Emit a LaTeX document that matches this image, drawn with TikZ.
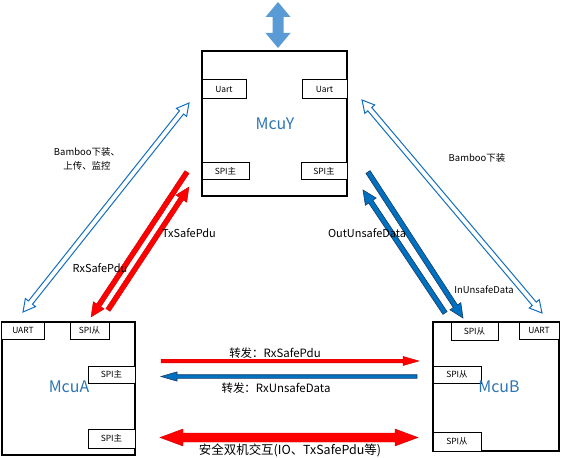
\documentclass[tikz,border=0pt]{standalone}
\usepackage{fontspec}
\setmainfont{Noto Sans CJK SC}
\usetikzlibrary{calc}
\definecolor{mcublue}{RGB}{46,117,182}
\definecolor{lightblue}{RGB}{91,155,213}
\definecolor{hollowblue}{RGB}{20,110,190}
\definecolor{solidblue}{RGB}{0,112,192}
\definecolor{darkblue}{RGB}{25,60,100}
\definecolor{pured}{RGB}{255,0,0}
\newcommand\fs[1]{\fontsize{#1}{#1}\selectfont}
% single block arrow: style, from, to, half shaft, half head, head length
\newcommand\blockarr[6]{%
  \path ($(#3)!#6!(#2)$) coordinate (tH);
  \draw[#1] ($(#2)!#4!90:(#3)$) -- ($(tH)!#4!-90:(#2)$) -- ($(tH)!#5!-90:(#2)$) -- (#3)
    -- ($(tH)!#5!90:(#2)$) -- ($(tH)!#4!90:(#2)$) -- ($(#2)!#4!-90:(#3)$) -- cycle;}
\newcommand\dblarr[6]{%
  \path ($(#3)!#6!(#2)$) coordinate (tH) ($(#2)!#6!(#3)$) coordinate (tG);
  \draw[#1] (#2) -- ($(tG)!#5!90:(#3)$) -- ($(tG)!#4!90:(#3)$) -- ($(tH)!#4!-90:(#2)$)
    -- ($(tH)!#5!-90:(#2)$) -- (#3) -- ($(tH)!#5!90:(#2)$) -- ($(tH)!#4!90:(#2)$)
    -- ($(tG)!#4!-90:(#3)$) -- ($(tG)!#5!-90:(#3)$) -- cycle;}
\tikzset{
  mcubox/.style={draw=black, line width=2.4bp, fill=white, inner sep=0pt},
  port/.style={draw=black, line width=1bp, fill=white, inner sep=0pt, font=\fs{8.5}},
  mcuname/.style={text=mcublue, font=\fs{16}, inner sep=0pt},
  lbl/.style={inner sep=0pt, font=\fs{11}, text=black},
  hollow/.style={draw=hollowblue, line width=1bp, fill=white, line join=miter},
  redfill/.style={fill=pured, draw=pured!80!black, line width=0.4bp},
  bluefill/.style={fill=solidblue, draw=darkblue, line width=0.6bp},
  topfill/.style={fill=lightblue, draw=none},
}
\begin{document}
\begin{tikzpicture}[x=1bp, y=-1bp]
\useasboundingbox (0,0) rectangle (569,458);
% MCU boxes
\node[mcubox, minimum width=145bp, minimum height=145bp] (mcuy) at (274.5,123.5) {};
\node[mcubox, minimum width=133bp, minimum height=133bp] (mcua) at (68.5,388.5) {};
\node[mcubox, minimum width=126bp, minimum height=129bp] (mcub) at (496,386.5) {};
% ports McuY
\node[port, minimum width=44bp, minimum height=19bp] (uy1) at (224,89.5) {Uart};
\node[port, minimum width=45bp, minimum height=19bp] (uy2) at (324.5,89.5) {Uart};
\node[port, minimum width=47bp, minimum height=17bp] (sy1) at (225.5,171.5) {SPI主};
\node[port, minimum width=46bp, minimum height=17bp] (sy2) at (324,171.5) {SPI主};
% ports McuA
\node[port, minimum width=42bp, minimum height=17bp] (ua) at (23,330.5) {UART};
\node[port, minimum width=39bp, minimum height=17bp] (sa1) at (89.5,330.5) {SPI从};
\node[port, minimum width=47bp, minimum height=17bp] (sa2) at (111.5,374.5) {SPI主};
\node[port, minimum width=47bp, minimum height=19bp] (sa3) at (111.5,438.5) {SPI主};
% ports McuB
\node[port, minimum width=47bp, minimum height=18bp] (sb1) at (474.5,331) {SPI从};
\node[port, minimum width=40bp, minimum height=17bp] (ub) at (539,330.5) {UART};
\node[port, minimum width=48bp, minimum height=17bp] (sb2) at (457,374.5) {SPI从};
\node[port, minimum width=48bp, minimum height=19bp] (sb3) at (457,441.5) {SPI从};
% names
\node[mcuname] (ny) at (275,124) {McuY};
\node[mcuname] (na) at (69,387) {McuA};
\node[mcuname] (nb) at (499,387) {McuB};
% arrow end coordinates
\coordinate (t1) at (278,2);
\coordinate (t2) at (278,48);
\coordinate (lb1) at (23,312);
\coordinate (lb2) at (189,103);
\coordinate (rb1) at (362,100);
\coordinate (rb2) at (542,313);
\coordinate (ra1) at (187,172);
\coordinate (ra2) at (91,317);
\coordinate (rb3) at (108,310);
\coordinate (rb4) at (189,187);
\coordinate (bl1) at (368,172);
\coordinate (bl2) at (463,318);
\coordinate (bl3) at (445,313);
\coordinate (bl4) at (363,190);
\coordinate (h1) at (161,361);
\coordinate (h2) at (419,361);
\coordinate (h3) at (417,376.5);
\coordinate (h4) at (161,376.5);
\coordinate (d1) at (160,437.5);
\coordinate (d2) at (418,437.5);
% arrows
\dblarr{topfill}{t1}{t2}{5.5bp}{12.5bp}{15bp}
\dblarr{hollow}{lb1}{lb2}{2.6bp}{6.5bp}{12bp}
\dblarr{hollow}{rb1}{rb2}{2.6bp}{6.5bp}{12bp}
\blockarr{redfill}{ra1}{ra2}{2.5bp}{6.5bp}{14bp}
\blockarr{redfill}{rb3}{rb4}{2.5bp}{6.5bp}{14bp}
\blockarr{bluefill}{bl1}{bl2}{2.5bp}{6.5bp}{14bp}
\blockarr{bluefill}{bl3}{bl4}{2.5bp}{6.5bp}{14bp}
\blockarr{redfill}{h1}{h2}{1.8bp}{4.6bp}{16bp}
\blockarr{bluefill}{h3}{h4}{1.8bp}{4.6bp}{16bp}
\dblarr{redfill}{d1}{d2}{4.5bp}{8.5bp}{23bp}
% labels
\node[lbl, font=\fs{9.5}, align=center] (lbam) at (87,159) {Bamboo下装、\\[4bp]上传、监控};
\node[lbl, font=\fs{9.5}] (rbam) at (477,158) {Bamboo下装};
\node[lbl] (ltx) at (189,233) {TxSafePdu};
\node[lbl] (lrx) at (100,268) {RxSafePdu};
\node[lbl] (lout) at (367,233) {OutUnsafeData};
\node[lbl, font=\fs{9.5}] (lin) at (484,290) {InUnsafeData};
\node[lbl, font=\fs{11.5}] (lf1) at (275,353) {转发：RxSafePdu};
\node[lbl, font=\fs{11.5}] (lf2) at (276,388) {转发：RxUnsafeData};
\node[lbl, font=\fs{12.5}] (lsafe) at (290,450) {安全双机交互(IO、TxSafePdu等)};
\end{tikzpicture}
\end{document}
